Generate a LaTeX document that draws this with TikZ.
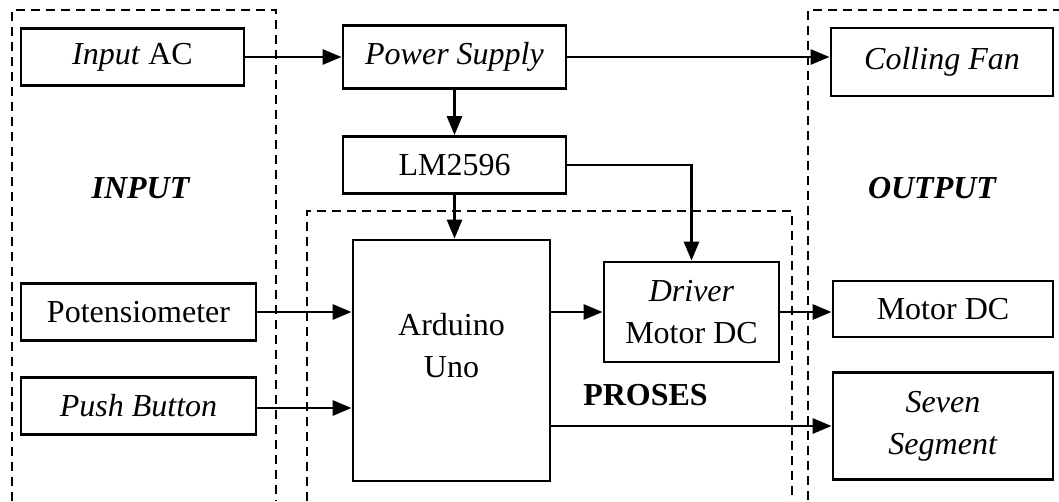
\documentclass[tikz,border=0pt]{standalone}
\usepackage{fontspec}
\setmainfont{Liberation Serif}
\usetikzlibrary{arrows.meta}
\begin{document}
\begin{tikzpicture}[x=1pt,y=-1pt,
  box/.style={draw=black,line width=2.8pt,rectangle,inner sep=0pt,align=center,font=\fontsize{32}{42}\selectfont},
  conn/.style={line width=2.8pt,-{Triangle[length=19pt,width=15pt]}},
  group/.style={line width=1.8pt,dash pattern=on 9pt off 6pt},
  heading/.style={inner sep=0pt,font=\fontsize{32}{42}\selectfont\bfseries}]
\useasboundingbox (0,0) rectangle (1059,501);
% dashed groups
\draw[group] (12,501) -- (12,10) -- (276,10) -- (276,501);
\draw[group] (1062,10) -- (808,10) -- (808,501);
\draw[group] (307,501) -- (307,211) -- (792,211) -- (792,501);
% nodes
\node[box,minimum width=223pt,minimum height=57pt] (inac) at (132.5,57) {\textit{Input} AC};
\node[box,minimum width=223pt,minimum height=63pt] (ps) at (454.5,57) {\textit{Power Supply}};
\node[box,minimum width=222pt,minimum height=68pt] (fan) at (942,62) {\textit{Colling Fan}};
\node[box,minimum width=223pt,minimum height=57pt] (lm) at (454.5,165) {LM2596};
\node[box,minimum width=197pt,minimum height=241pt] (ard) at (451.5,360.5) {};
\node[inner sep=0pt,align=center,font=\fontsize{32}{42}\selectfont] (ardtxt) at ([yshift=15pt]ard.center) {Arduino\\Uno};
\node[box,minimum width=175pt,minimum height=100pt] (drv) at (691.5,312) {\textit{Driver}\\Motor DC};
\node[box,minimum width=235pt,minimum height=57pt] (pot) at (138.5,312) {Potensiometer};
\node[box,minimum width=235pt,minimum height=57pt] (pb) at (138.5,406) {\textit{Push Button}};
\node[box,minimum width=220pt,minimum height=56pt] (mdc) at (943,309) {Motor DC};
\node[box,minimum width=220pt,minimum height=107pt] (seg) at (943,426) {\textit{Seven}\\\textit{Segment}};
% helper coordinates
\coordinate (pbout) at (256,408);
% headings
\node[heading] (hin) at (141,188) {\textit{INPUT}};
\node[heading] (hout) at (932.5,188) {\textit{OUTPUT}};
\node[heading] (hpro) at (645.5,395) {PROSES};
% connectors
\draw[conn] (inac.east) -- (inac.east -| ps.west);
\draw[conn] (ps.east) -- (ps.east -| fan.west);
\draw[conn] (ps.south) -- (lm.north);
\draw[conn] (lm.south) -- (lm.south |- ard.north);
\draw[conn] (lm.east) -| (drv.north);
\draw[conn] (pot.east) -- (pot.east -| ard.west);
\draw[conn] (pbout) -- (pbout -| ard.west);
\draw[conn] (drv.west -| ard.east) -- (drv.west);
\draw[conn] (drv.east) -- (drv.east -| mdc.west);
\draw[conn] (seg.west -| ard.east) -- (seg.west);
\end{tikzpicture}
\end{document}
